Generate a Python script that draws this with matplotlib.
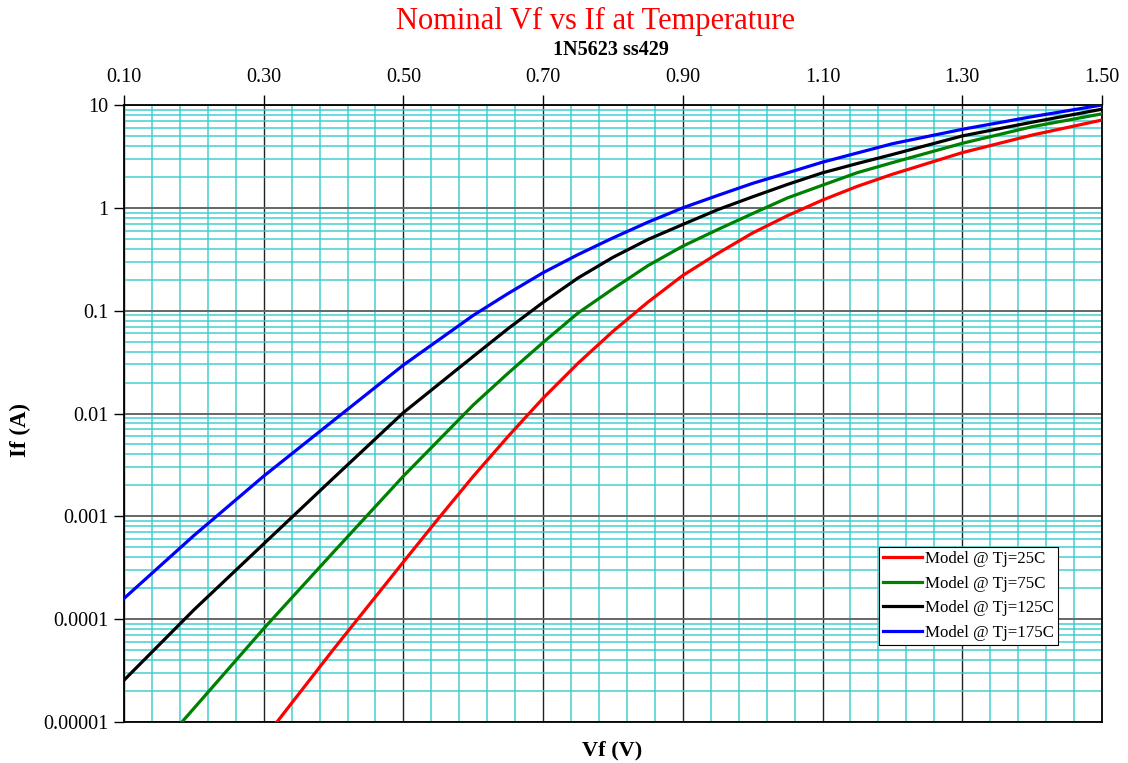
import matplotlib
matplotlib.use("Agg")
import matplotlib.pyplot as plt
import numpy as np
from matplotlib.ticker import FixedLocator, FixedFormatter, LogLocator, NullFormatter

plt.rcParams['font.family'] = ['Liberation Serif', 'DejaVu Serif']

# forward voltage (V) and forward current (A)
vf_25 = [0.319, 0.40, 0.50, 0.55, 0.60, 0.65, 0.70, 0.75, 0.80, 0.85, 0.90, 0.95, 1.00, 1.05,
         1.10, 1.15, 1.20, 1.30, 1.40, 1.50]
if_25 = [1e-5, 5.1e-5, 3.6e-4, 9.5e-4, 2.45e-3, 6.0e-3, 0.0141, 0.0308, 0.063, 0.121, 0.22, 0.36, 0.57, 0.84,
         1.19, 1.62, 2.12, 3.44, 5.1, 7.14]

vf_75 = [0.183, 0.30, 0.40, 0.50, 0.60, 0.65, 0.70, 0.75, 0.80, 0.85, 0.90, 0.95, 1.00, 1.05,
         1.10, 1.15, 1.20, 1.30, 1.40, 1.50]
if_75 = [1e-5, 8.1e-5, 4.5e-4, 2.46e-3, 0.0121, 0.0247, 0.0491, 0.0949, 0.163, 0.274, 0.424, 0.615, 0.88, 1.25,
         1.66, 2.2, 2.75, 4.24, 6.15, 8.2]

vf_125 = [0.10, 0.20, 0.30, 0.40, 0.50, 0.60, 0.65, 0.70, 0.75, 0.80, 0.85, 0.90, 0.95, 1.00, 1.05,
          1.10, 1.15, 1.20, 1.30, 1.40, 1.50]
if_125 = [2.55e-5, 1.23e-4, 5.4e-4, 2.36e-3, 0.0102, 0.0359, 0.067, 0.1205, 0.208, 0.33, 0.492, 0.689, 0.96, 1.28, 1.69,
          2.19, 2.70, 3.3, 5.0, 6.8, 9.1]

vf_175 = [0.10, 0.20, 0.30, 0.40, 0.50, 0.60, 0.65, 0.70, 0.75, 0.80, 0.85, 0.90, 0.95, 1.00, 1.05,
          1.10, 1.20, 1.30, 1.40, 1.50]
if_175 = [1.59e-4, 6.5e-4, 2.46e-3, 8.55e-3, 0.0296, 0.090, 0.147, 0.234, 0.351, 0.51, 0.725, 1.0, 1.32, 1.73, 2.19,
          2.78, 4.2, 5.8, 7.7, 10.0]

labels = ["Model @ Tj=25C", "Model @ Tj=75C", "Model @ Tj=125C", "Model @ Tj=175C"]
colors = ["#ff0000", "#008000", "#000000", "#0000ff"]

x_major = [0.10, 0.30, 0.50, 0.70, 0.90, 1.10, 1.30, 1.50]
y_major = [1e-5, 1e-4, 1e-3, 1e-2, 1e-1, 1, 10]
y_labels = ["0.00001", "0.0001", "0.001", "0.01", "0.1", "1", "10"]

fig = plt.figure(figsize=(11.28, 7.63), dpi=100)
ax = fig.add_axes([0.1099, 0.0537, 0.8670, 0.8087])

ax.set_yscale("log")
ax.set_xlim(0.10, 1.50)
ax.set_ylim(1e-5, 10)

for vf, cur, c, lab in zip([vf_25, vf_75, vf_125, vf_175], [if_25, if_75, if_125, if_175], colors, labels):
    ax.plot(vf, cur, color=c, lw=2.3, label=lab, solid_joinstyle="round", zorder=3)

# ticks / grid
ax.xaxis.set_major_locator(FixedLocator(x_major))
ax.xaxis.set_major_formatter(FixedFormatter([f"{v:.2f}" for v in x_major]))
ax.xaxis.set_minor_locator(FixedLocator(np.arange(0.10, 1.501, 0.04)))
ax.yaxis.set_major_locator(FixedLocator(y_major))
ax.yaxis.set_major_formatter(FixedFormatter(y_labels))
ax.yaxis.set_minor_locator(LogLocator(base=10, subs=np.arange(2, 10)))
ax.yaxis.set_minor_formatter(NullFormatter())

ax.xaxis.tick_top()
ax.tick_params(axis="x", which="major", direction="out", length=7, width=1, labelsize=14.5, pad=6)
ax.tick_params(axis="y", which="major", direction="out", length=7, width=1, labelsize=14.5, pad=4)
ax.tick_params(which="minor", length=0)

ax.grid(True, which="minor", color="#33cccc", lw=1.2, alpha=0.85, zorder=1)
ax.grid(True, which="major", axis="x", color="#222222", lw=1.0, zorder=2)
ax.grid(True, which="major", axis="y", color="#666666", lw=1.4, zorder=2)
ax.set_axisbelow(True)

for s in ax.spines.values():
    s.set_color("black")
    s.set_linewidth(1.3)

fig.text(20 / 1128, 1 - 430 / 763, "If (A)", fontsize=16.5, fontweight="bold", rotation=90,
         ha="center", va="center")
fig.text(0.5426, 0.0105, "Vf (V)", fontsize=16, fontweight="bold", ha="center", va="baseline")
fig.text(0.5275, 1 - 29 / 763, "Nominal Vf vs If at Temperature", fontsize=22, color="#ff0000",
         ha="center", va="baseline")
fig.text(0.542, 1 - 55 / 763, "1N5623 ss429", fontsize=14.5, fontweight="bold", ha="center", va="baseline")

leg = ax.legend(loc="upper left", bbox_to_anchor=(0.772, 0.2836), fontsize=12.2, frameon=True,
                fancybox=False, framealpha=1, edgecolor="black", handlelength=2.3,
                handletextpad=0.15, borderpad=0.25, labelspacing=0.5, borderaxespad=0)
leg.get_frame().set_linewidth(0.8)

fig.savefig("out.png", dpi=100)
